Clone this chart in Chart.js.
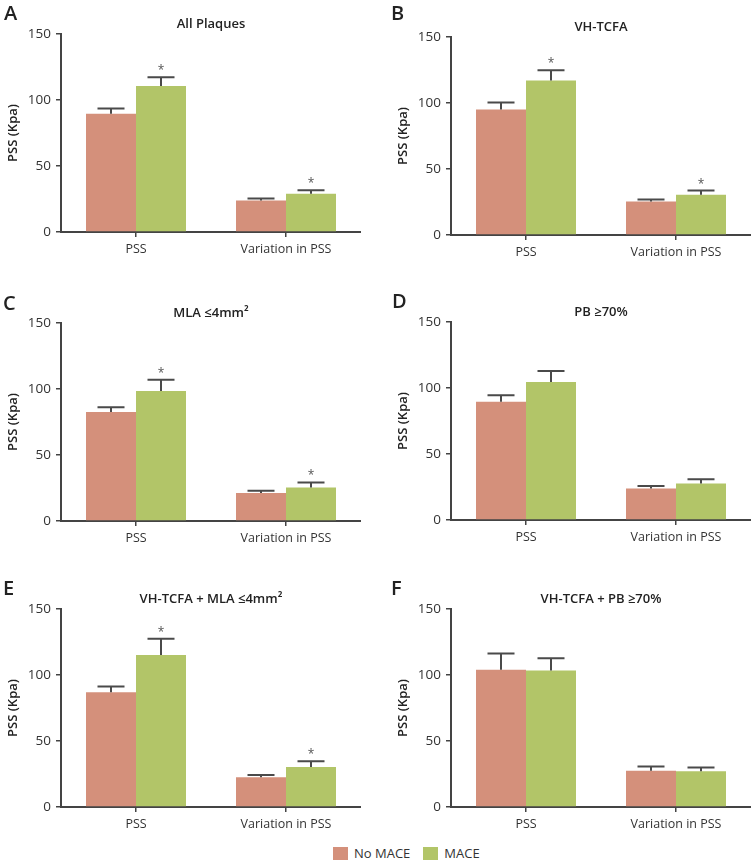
<!DOCTYPE html>
<html>
<head>
<meta charset="utf-8">
<script src="https://cdn.jsdelivr.net/npm/chart.js@4.4.1/dist/chart.umd.min.js"></script>
<style>
  body { margin: 0; background: #fff; width: 751px; height: 861px; position: relative; overflow: hidden; font-family: 'Open Sans', sans-serif; }
  .panel { position: absolute; }
  .letter { position: absolute; font-size: 20px; line-height: 20px; font-weight: 600; color: #222; }
  #legend { position: absolute; left: 333px; top: 844px; display: flex; align-items: center; font-size: 13px; color: #333; }
  #legend span.sw { display: inline-block; width: 15px; height: 13px; margin-right: 6px; }
  #legend span.lb { margin-right: 13px; }
</style>
</head>
<body>
<div id="legend"></div>

<script>
// data
const categories = ['PSS', 'Variation in PSS'];
const seriesNames = ['No MACE', 'MACE'];
const panelLetters = ['A', 'B', 'C', 'D', 'E', 'F'];
const panelTitles = ['All Plaques', 'VH-TCFA', 'MLA ≤4mm²', 'PB ≥70%', 'VH-TCFA + MLA ≤4mm²', 'VH-TCFA + PB ≥70%'];
const yTicks = [0, 50, 100, 150];

// means per panel: [PSS, Variation in PSS]
const noMaceMeans = [[89.5, 23.8], [95.0, 25.4], [82.5, 21.2], [89.5, 23.9], [87.0, 22.5], [104.0, 27.5]];
const maceMeans   = [[110.6, 28.9], [117.1, 30.5], [98.4, 25.3], [104.6, 27.7], [115.2, 30.3], [103.5, 27.0]];
// SEM (upper error bar length)
const noMaceSem = [[4.0, 1.5], [5.3, 1.4], [3.6, 1.8], [5.0, 1.8], [4.2, 1.7], [12.2, 3.1]];
const maceSem   = [[6.6, 2.7], [7.8, 3.2], [8.7, 3.9], [8.3, 3.1], [12.3, 4.3], [9.1, 3.0]];
// * marks on MACE bars
const maceStars = [[true, true], [true, true], [true, true], [false, false], [true, true], [false, false]];

const colors = ['#D4907B', '#B2C568'];
const axisColor = '#444';
const panelPos = [[0, 0], [390, 3], [0, 289], [390, 288], [0, 575], [390, 575]];
const letterPos = [[4, 3], [391, 3], [3, 293], [392, 291], [3, 578], [391, 578]];

Chart.defaults.font.family = "'Open Sans', sans-serif";

// error bars + asterisks drawn on top of the bars
const errorBars = {
  id: 'errorBars',
  afterDatasetsDraw(chart, args, opts) {
    const ctx = chart.ctx;
    const y = chart.scales.y;
    chart.data.datasets.forEach((ds, di) => {
      const meta = chart.getDatasetMeta(di);
      meta.data.forEach((bar, i) => {
        const top = y.getPixelForValue(ds.data[i] + opts.sem[di][i]);
        const half = bar.width * 0.27;
        ctx.save();
        ctx.strokeStyle = '#4a4a4a';
        ctx.lineWidth = 2;
        ctx.beginPath();
        ctx.moveTo(bar.x, bar.y);
        ctx.lineTo(bar.x, top);
        ctx.moveTo(bar.x - half, top);
        ctx.lineTo(bar.x + half, top);
        ctx.stroke();
        if (opts.stars[di][i]) {
          ctx.fillStyle = '#555';
          ctx.font = "12px 'Open Sans', sans-serif";
          ctx.textAlign = 'center';
          ctx.textBaseline = 'alphabetic';
          ctx.fillText('*', bar.x, top - 3);
        }
        ctx.restore();
      });
    });
  }
};

panelTitles.forEach((title, p) => {
  const wrap = document.createElement('div');
  wrap.className = 'panel';
  wrap.style.left = panelPos[p][0] + 'px';
  wrap.style.top = panelPos[p][1] + 'px';
  const cv = document.createElement('canvas');
  cv.width = 361; cv.height = 270;
  wrap.appendChild(cv);
  document.body.appendChild(wrap);

  const lt = document.createElement('div');
  lt.className = 'letter';
  lt.textContent = panelLetters[p];
  lt.style.left = letterPos[p][0] + 'px';
  lt.style.top = letterPos[p][1] + 'px';
  document.body.appendChild(lt);

  new Chart(cv, {
    type: 'bar',
    data: {
      labels: categories,
      datasets: [
        { label: seriesNames[0], data: noMaceMeans[p], backgroundColor: colors[0] },
        { label: seriesNames[1], data: maceMeans[p], backgroundColor: colors[1] }
      ]
    },
    options: {
      responsive: false,
      animation: false,
      layout: { padding: { top: 0, right: 0, bottom: 8, left: 0 } },
      datasets: { bar: { categoryPercentage: 2 / 3, barPercentage: 1, borderWidth: 0 } },
      plugins: {
        legend: { display: false },
        tooltip: { enabled: false },
        title: {
          display: true, text: title, fullSize: false, color: '#222',
          font: { size: 13, weight: '600' }, padding: { top: 16, bottom: 2.4 }
        },
        errorBars: {
          sem: [noMaceSem[p], maceSem[p]],
          stars: [[false, false], maceStars[p]]
        }
      },
      scales: {
        x: {
          afterFit: s => { s.height = 30; },
          grid: { offset: false, drawOnChartArea: false, tickLength: 5, color: axisColor, lineWidth: 1.5 },
          border: { color: axisColor, width: 2 },
          ticks: { color: '#333', font: { size: 12.5 }, padding: 5 }
        },
        y: {
          min: 0, max: 150,
          afterFit: s => { s.width = 61; },
          afterBuildTicks: s => { s.ticks = yTicks.map(v => ({ value: v })); },
          grid: { drawOnChartArea: false, tickLength: 5, color: axisColor, lineWidth: 1.5 },
          border: { color: axisColor, width: 2 },
          ticks: { color: '#333', font: { size: 13.5 }, padding: 5 },
          title: {
            display: true, text: 'PSS (Kpa)', color: '#222',
            font: { size: 13, weight: '600' }, padding: { top: 5, bottom: 0 }
          }
        }
      }
    },
    plugins: [errorBars]
  });
});

// shared legend
const legend = document.getElementById('legend');
seriesNames.forEach((name, i) => {
  const sw = document.createElement('span');
  sw.className = 'sw';
  sw.style.background = colors[i];
  const lb = document.createElement('span');
  lb.className = 'lb';
  lb.textContent = name;
  legend.appendChild(sw);
  legend.appendChild(lb);
});
</script>
</body>
</html>
